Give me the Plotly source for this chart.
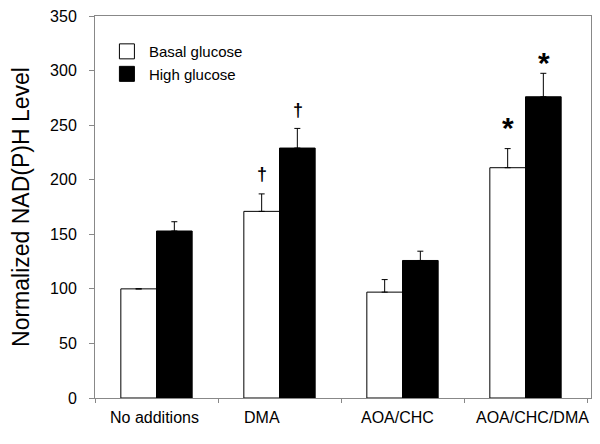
import plotly.graph_objects as go

categories = ["No additions", "DMA", "AOA/CHC", "AOA/CHC/DMA"]
basal = [100, 171, 97, 211]
basal_err = [0, 16, 11.5, 17.5]
high = [153, 229, 126, 276]
high_err = [8.5, 18, 8.5, 21.5]
basal_marks = ["", "†", "", "*"]
high_marks = ["", "†", "", "*"]
y_ticks = [0, 50, 100, 150, 200, 250, 300, 350]
label_shift = [-2.5, -17.5, -5.5, 7]
basal_mark_shift = [0, 8, 0, 3]
high_mark_shift = [0, 6, 0, -8]

font = "Liberation Sans"

fig = go.Figure()
fig.add_trace(go.Bar(
    name="Basal glucose", x=categories, y=basal, showlegend=False,
    marker=dict(color="white", line=dict(color="black", width=1)),
    error_y=dict(type="data", array=basal_err, arrayminus=[0]*4, symmetric=False,
                 color="black", thickness=1, width=3),
))
fig.add_trace(go.Bar(
    name="High glucose", x=categories, y=high, showlegend=False,
    marker=dict(color="black", line=dict(color="black", width=1)),
    error_y=dict(type="data", array=high_err, arrayminus=[0]*4, symmetric=False,
                 color="black", thickness=1, width=3),
))
# legend keys
for name, col in (("Basal glucose", "white"), ("High glucose", "black")):
    fig.add_trace(go.Scatter(
        name=name, x=[None], y=[None], mode="markers",
        marker=dict(symbol="square", size=15, color=col, line=dict(color="black", width=1)),
    ))

for i, c in enumerate(categories):
    for marks, vals, errs, shift, ysh in (
        (basal_marks, basal, basal_err, -18, basal_mark_shift),
        (high_marks, high, high_err, 18, high_mark_shift),
    ):
        m = marks[i]
        if m:
            big = m == "*"
            fig.add_annotation(
                x=c, y=vals[i] + errs[i], xref="x", yref="y",
                text="<b>" + m + "</b>",
                showarrow=False, xshift=shift, yshift=ysh[i],
                yanchor="bottom",
                font=dict(family=font, size=(30 if big else 18), color="black"),
            )
    fig.add_annotation(
        x=c, y=0, xref="x", yref="y", text=c, showarrow=False,
        xshift=label_shift[i], yshift=-9, yanchor="top",
        font=dict(family=font, size=16, color="black"),
    )

fig.update_layout(
    width=592, height=436,
    margin=dict(l=87, r=9, t=8, b=46),
    paper_bgcolor="white", plot_bgcolor="white",
    barmode="group", bargap=0.42, bargroupgap=0,
    font=dict(family=font, size=16, color="black"),
    showlegend=True,
    legend=dict(x=0.02, y=0.95, xanchor="left", yanchor="top",
                bgcolor="rgba(0,0,0,0)", font=dict(size=15), itemwidth=34,
                tracegroupgap=0),
)
fig.update_xaxes(
    showline=True, linecolor="#888888", linewidth=1, mirror=True,
    ticks="outside", tickson="boundaries", ticklen=4, tickcolor="#888888",
    showticklabels=False, showgrid=False, automargin=False,
)
fig.update_yaxes(
    range=[0, 350], tickvals=y_ticks,
    showline=True, linecolor="#888888", linewidth=1, mirror=True,
    ticks="outside", ticklen=5, tickcolor="#888888", showgrid=False,
    tickfont=dict(size=16), ticklabelstandoff=9, ticklabeloverflow="allow",
    automargin=False,
    title=dict(text="Normalized NAD(P)H Level", font=dict(size=23), standoff=14),
)

fig.write_html("out.html")
